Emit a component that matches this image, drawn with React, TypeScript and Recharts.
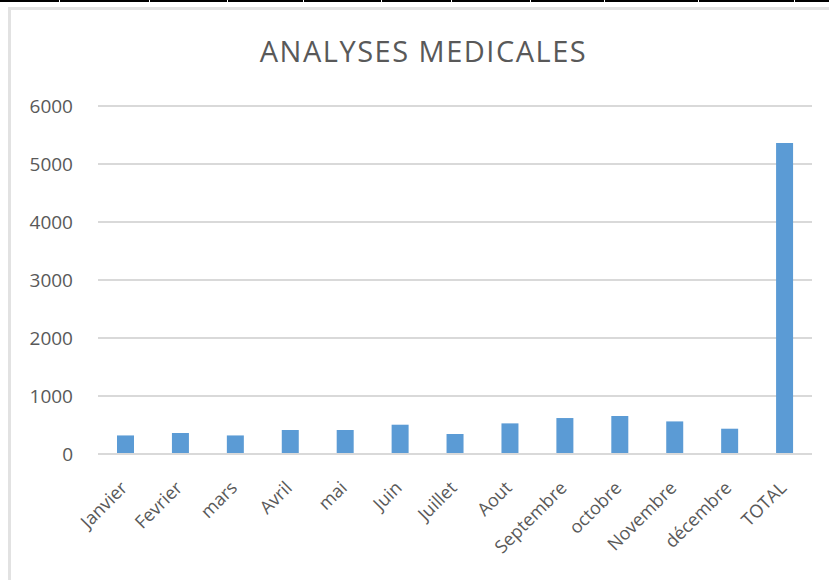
import { BarChart, Bar, XAxis, YAxis, CartesianGrid } from 'recharts'

const months = [
  'Janvier',
  'Fevrier',
  'mars',
  'Avril',
  'mai',
  'Juin',
  'Juillet',
  'Aout',
  'Septembre',
  'octobre',
  'Novembre',
  'décembre',
  'TOTAL',
]
const analyses = [320, 362, 320, 414, 414, 505, 345, 528, 620, 655, 562, 436, 5360]
const yTicks = [0, 1000, 2000, 3000, 4000, 5000, 6000]
const stripMarks = [59, 149, 227, 303, 381, 451, 530, 604, 698, 794]

const data = months.map((m, i) => ({ month: m, value: analyses[i] }))

const FONT = '"Open Sans", "Liberation Sans", sans-serif'
const TEXT = '#595959'

function MonthTick({ x, y, payload }: any) {
  return (
    <text
      transform={`translate(${x + 3}, ${y + 27}) rotate(-45)`}
      textAnchor="end"
      fill={TEXT}
      fontSize={18}
      fontFamily={FONT}
    >
      {payload.value}
    </text>
  )
}

export default function App() {
  return (
    <div
      style={{
        position: 'absolute',
        left: 0,
        top: 0,
        width: 829,
        height: 580,
        background: '#fff',
        overflow: 'hidden',
      }}
    >
      {/* bande noire en haut */}
      <div style={{ position: 'absolute', left: 0, top: 0, width: 829, height: 2, background: '#000' }} />
      {stripMarks.map((x) => (
        <div key={x} style={{ position: 'absolute', left: x, top: 0, width: 1, height: 2, background: '#fff' }} />
      ))}
      {/* cadre du graphique */}
      <div
        style={{
          position: 'absolute',
          left: 8,
          top: 7,
          width: 900,
          height: 700,
          border: '3px solid #e2e2e2',
        }}
      />
      <div
        style={{
          position: 'absolute',
          left: 0,
          top: 31,
          width: 847,
          textAlign: 'center',
          fontFamily: FONT,
          fontSize: 29,
          letterSpacing: 1.5,
          color: TEXT,
          lineHeight: '40px',
        }}
      >
        ANALYSES MEDICALES
      </div>
      <BarChart
        width={829}
        height={580}
        data={data}
        margin={{ top: 106, right: 17, left: 0, bottom: 26 }}
        barSize={17}
        style={{ position: 'absolute', left: 0, top: 0 }}
      >
        <CartesianGrid vertical={false} stroke="#d9d9d9" strokeWidth={2} />
        <XAxis
          dataKey="month"
          interval={0}
          height={100}
          axisLine={{ stroke: '#d9d9d9', strokeWidth: 2 }}
          tickLine={false}
          tick={<MonthTick />}
        />
        <YAxis
          width={98}
          domain={[0, 6000]}
          ticks={yTicks}
          axisLine={false}
          tickLine={false}
          tickMargin={19}
          tick={{ fill: TEXT, fontSize: 19, fontFamily: FONT }}
        />
        <Bar dataKey="value" fill="#5b9bd5" isAnimationActive={false} />
      </BarChart>
    </div>
  )
}
